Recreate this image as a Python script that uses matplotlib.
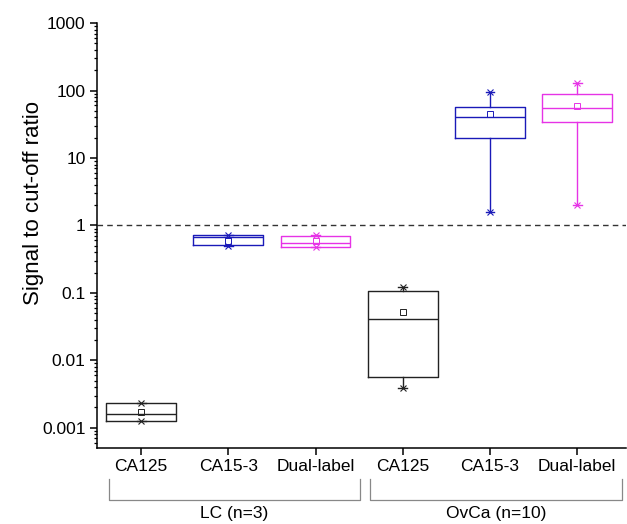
import numpy as np
import matplotlib
matplotlib.use("Agg")
import matplotlib.pyplot as plt
import matplotlib.transforms as mtransforms
from matplotlib.ticker import LogLocator, NullFormatter

plt.rcParams['font.family'] = ['Liberation Sans', 'DejaVu Sans']

# data (signal to cut-off ratio)
labels = ["CA125", "CA15-3", "Dual-label", "CA125", "CA15-3", "Dual-label"]
q1 = [0.00127, 0.52, 0.475, 0.00564, 20.0, 34.0]
q3 = [0.00235, 0.716, 0.70, 0.108, 57.0, 89.0]
medians = [0.0016, 0.68, 0.545, 0.0416, 40.5, 54.5]
means = [0.00174, 0.59, 0.59, 0.0523, 44.4, 58.3]
lows = [0.00127, 0.50, 0.475, 0.00387, 1.58, 2.03]
highs = [0.00235, 0.73, 0.72, 0.121, 96.0, 129.0]
colors = ["#222222", "#1a1ab8", "#e633e6", "#222222", "#1a1ab8", "#e633e6"]

groups = ["LC (n=3)", "OvCa (n=10)"]
group_members = [[0, 1, 2], [3, 4, 5]]

ytick_vals = [0.001, 0.01, 0.1, 1, 10, 100, 1000]
ytick_labels = ["0.001", "0.01", "0.1", "1", "10", "100", "1000"]

fig = plt.figure(figsize=(6.27, 5.24), dpi=100)
ax = fig.add_axes([0.1542, 0.145, 0.8442, 0.811])

positions = np.arange(1, len(labels) + 1)
for i, pos in enumerate(positions):
    stats = [dict(med=medians[i], q1=q1[i], q3=q3[i], whislo=lows[i],
                  whishi=highs[i], mean=means[i], fliers=[])]
    c = colors[i]
    ax.bxp(stats, positions=[pos], widths=0.8, capwidths=0.1, showcaps=True,
           showmeans=True, showfliers=False,
           boxprops=dict(color=c, linewidth=1.0),
           medianprops=dict(color=c, linewidth=1.0),
           whiskerprops=dict(color=c, linewidth=1.0),
           capprops=dict(color=c, linewidth=1.0),
           meanprops=dict(marker="s", markerfacecolor="none", markeredgecolor=c,
                          markersize=4, markeredgewidth=0.7))
    ax.plot([pos, pos], [lows[i], highs[i]], linestyle="none", marker="x",
            color=c, markersize=5, markeredgewidth=0.8)

ax.axhline(1, color="#333333", linestyle=(0, (4, 3)), linewidth=1.0)

ax.set_yscale("log")
ax.set_ylim(10 ** -3.30, 1000)
ax.set_xlim(0.49, 6.56)
ax.set_yticks(ytick_vals)
ax.set_yticklabels(ytick_labels)
ax.yaxis.set_minor_locator(LogLocator(base=10, subs=np.arange(2, 10), numticks=20))
ax.yaxis.set_minor_formatter(NullFormatter())
ax.set_xticks(positions)
ax.set_xticklabels(labels)

for side in ["top", "right"]:
    ax.spines[side].set_visible(False)
for side in ["left", "bottom"]:
    ax.spines[side].set_linewidth(1.1)

ax.tick_params(axis="both", which="major", direction="out", length=5, width=1.1,
               labelsize=12.5, pad=3)
ax.tick_params(axis="y", which="minor", direction="out", length=2.5, width=0.9)
ax.set_ylabel("Signal to cut-off ratio", fontsize=16)
ax.yaxis.set_label_coords(-0.099, 0.576)

# group brackets under the category labels
trans = mtransforms.blended_transform_factory(ax.transData, ax.transAxes)
for name, members in zip(groups, group_members):
    x0 = positions[members[0]] - 0.37
    x1 = positions[members[-1]] + 0.51
    ax.plot([x0, x0, x1, x1], [-0.073, -0.122, -0.122, -0.073], color="#888888",
            linewidth=0.9, transform=trans, clip_on=False)
    ax.text((x0 + x1) / 2, -0.153, name, transform=trans, ha="center", va="center",
            fontsize=12.5)

fig.savefig("out.png", dpi=100)
